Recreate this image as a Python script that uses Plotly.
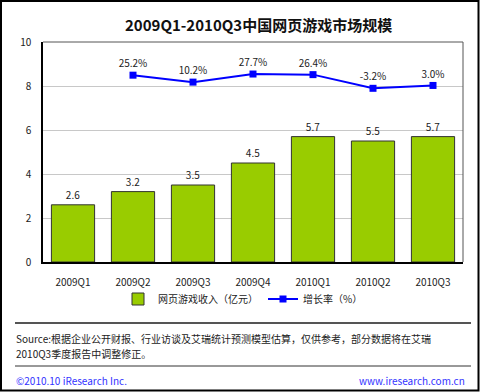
import plotly.graph_objects as go

categories = ["2009Q1", "2009Q2", "2009Q3", "2009Q4", "2010Q1", "2010Q2", "2010Q3"]
revenue = [2.6, 3.2, 3.5, 4.5, 5.7, 5.5, 5.7]
growth_categories = ["2009Q2", "2009Q3", "2009Q4", "2010Q1", "2010Q2", "2010Q3"]
growth = [25.2, 10.2, 27.7, 26.4, -3.2, 3.0]
y_ticks = [0, 2, 4, 6, 8, 10]

FONT = "Noto Sans CJK SC, DejaVu Sans, sans-serif"

# pixel -> paper helpers (plot area: x 43..463, y 42..262)
L, R, T, B = 43, 17, 42, 130
W, H = 480, 392
PW, PH = W - L - R, H - T - B
def px(x):
    return (x - L) / PW
def py(y):
    return (H - B - y) / PH

fig = go.Figure()
fig.add_trace(go.Bar(
    x=categories, y=revenue, name="网页游戏收入（亿元）",
    marker=dict(color="#99CC00", line=dict(color="#333333", width=1)),
    width=0.72,
    text=[f"{v:.1f}" for v in revenue], textposition="outside",
    textfont=dict(size=10, color="#222222"), cliponaxis=False,
))
fig.add_trace(go.Scatter(
    x=growth_categories, y=growth, name="增长率（%）", yaxis="y2",
    mode="lines+markers+text",
    line=dict(color="#0000FF", width=2),
    marker=dict(symbol="square", size=7, color="#0000FF"),
    text=[f"{v:.1f}%" for v in growth], textposition="top center",
    textfont=dict(size=10, color="#222222"), cliponaxis=False,
))

shapes = [
    # outer border
    dict(type="rect", xref="paper", yref="paper", x0=px(1), x1=px(478.5), y0=py(390.5), y1=py(1),
         line=dict(color="#000000", width=2)),
    # plot frame top/right (gray)
    dict(type="line", xref="paper", yref="paper", x0=0, x1=1, y0=1, y1=1, line=dict(color="#555555", width=1)),
    dict(type="line", xref="paper", yref="paper", x0=1, x1=1, y0=0, y1=1, line=dict(color="#555555", width=1)),
    # separators
    dict(type="line", xref="paper", yref="paper", x0=px(15), x1=px(471), y0=py(323), y1=py(323),
         line=dict(color="#555555", width=2)),
    dict(type="line", xref="paper", yref="paper", x0=px(15), x1=px(471), y0=py(366), y1=py(366),
         line=dict(color="#333333", width=1)),
]

annotations = [
    dict(text="<b>2009Q1-2010Q3中国网页游戏市场规模</b>", xref="paper", yref="paper",
         x=px(258), y=py(24), xanchor="center", yanchor="middle", showarrow=False,
         font=dict(size=15, color="#111111", family=FONT)),
    dict(text="Source:根据企业公开财报、行业访谈及艾瑞统计预测模型估算，仅供参考，部分数据将在艾瑞",
         xref="paper", yref="paper", x=px(14), y=py(338), xanchor="left", yanchor="middle",
         showarrow=False, font=dict(size=10, color="#222222", family=FONT)),
    dict(text="2010Q3季度报告中调整修正。",
         xref="paper", yref="paper", x=px(14), y=py(353), xanchor="left", yanchor="middle",
         showarrow=False, font=dict(size=10, color="#222222", family=FONT)),
    dict(text="©2010.10 iResearch Inc.", xref="paper", yref="paper", x=px(14), y=py(380),
         xanchor="left", yanchor="middle", showarrow=False,
         font=dict(size=10, color="#3333FF", family=FONT)),
    dict(text="www.iresearch.com.cn", xref="paper", yref="paper", x=px(467), y=py(380),
         xanchor="right", yanchor="middle", showarrow=False,
         font=dict(size=10, color="#3333FF", family=FONT)),
]

fig.update_layout(
    width=W, height=H,
    margin=dict(l=L, r=R, t=T, b=B, autoexpand=False),
    paper_bgcolor="white", plot_bgcolor="white",
    font=dict(family=FONT, size=10, color="#222222"),
    showlegend=True,
    legend=dict(orientation="h", x=px(243), y=py(299), xanchor="center", yanchor="middle",
                font=dict(size=10), bgcolor="rgba(0,0,0,0)", itemwidth=30),
    xaxis=dict(showline=True, linecolor="#000000", linewidth=1.5, ticks="outside", ticklen=10,
               tickcolor="rgba(0,0,0,0)", tickfont=dict(size=10), showgrid=False),
    yaxis=dict(range=[0, 10], tickvals=y_ticks, showline=True, linecolor="#000000", linewidth=1.5,
               showgrid=True, gridcolor="#C8C8C8", gridwidth=1, ticks="outside", ticklen=8,
               tickcolor="rgba(0,0,0,0)", tickfont=dict(size=10), zeroline=False),
    yaxis2=dict(overlaying="y", side="right", range=[-379, 97], visible=False),
    shapes=shapes, annotations=annotations,
    bargap=0.28,
)

fig.write_html("out.html", config={"displayModeBar": False},
               post_script="document.body.style.margin='0';document.body.style.overflow='hidden';")
